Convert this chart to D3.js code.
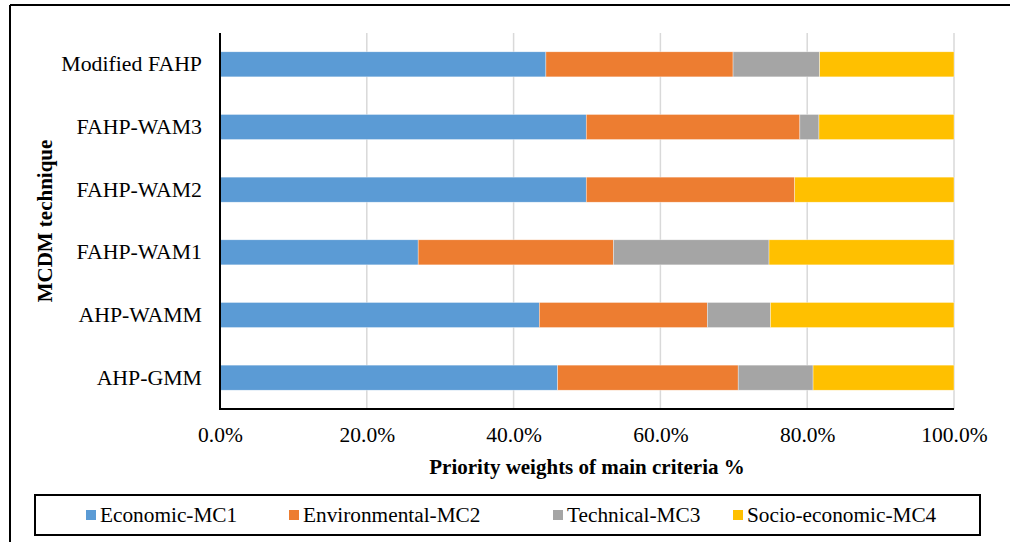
<!DOCTYPE html>
<html>
<head>
<meta charset="utf-8">
<script src="https://cdn.jsdelivr.net/npm/d3@7"></script>
<style>
  body { margin: 0; background: #fff; }
  svg { display: block; }
  svg text { font-family: "Liberation Serif", "Times New Roman", "DejaVu Serif", serif; fill: #000; }
</style>
</head>
<body>
<svg id="chart" width="1010" height="542"></svg>
<script>
const categories = ["Modified FAHP", "FAHP-WAM3", "FAHP-WAM2", "FAHP-WAM1", "AHP-WAMM", "AHP-GMM"];
const seriesNames = ["Economic-MC1", "Environmental-MC2", "Technical-MC3", "Socio-economic-MC4"];
const economicMC1 = [44.4, 49.9, 49.9, 27.0, 43.5, 46.0];
const environmentalMC2 = [25.5, 29.1, 28.4, 26.6, 22.9, 24.6];
const technicalMC3 = [11.8, 2.6, 0.0, 21.2, 8.6, 10.2];
const socioEconomicMC4 = [18.3, 18.4, 21.7, 25.2, 25.0, 19.2];
const xTicks = [0, 20, 40, 60, 80, 100];
const colors = ["#5b9bd5", "#ed7d31", "#a5a5a5", "#ffc000"];

const svg = d3.select("#chart");
const W = 1010, H = 542;

// outer frame
svg.append("line").attr("x1", 10).attr("x2", 10).attr("y1", 5).attr("y2", H).attr("stroke", "#000").attr("stroke-width", 2);
svg.append("line").attr("x1", 10).attr("x2", W).attr("y1", 5).attr("y2", 5).attr("stroke", "#000").attr("stroke-width", 2);

const plot = { left: 220, right: 954, top: 33, bottom: 409 };

const x = d3.scaleLinear().domain([0, 100]).range([plot.left, plot.right]);
const y = d3.scaleBand().domain(categories).range([plot.top, plot.bottom]).paddingInner(0.6).paddingOuter(0.3);

const rows = categories.map((c, i) => ({
  cat: c,
  "Economic-MC1": economicMC1[i],
  "Environmental-MC2": environmentalMC2[i],
  "Technical-MC3": technicalMC3[i],
  "Socio-economic-MC4": socioEconomicMC4[i]
}));
const stack = d3.stack().keys(seriesNames).offset(d3.stackOffsetExpand);
const stacked = stack(rows);

// gridlines
svg.append("g").selectAll("line").data(xTicks.slice(1)).join("line")
  .attr("x1", d => x(d)).attr("x2", d => x(d))
  .attr("y1", plot.top).attr("y2", plot.bottom)
  .attr("stroke", "#d9d9d9").attr("stroke-width", 1.5);

// bars
svg.append("g").selectAll("g").data(stacked).join("g")
  .attr("fill", (d, i) => colors[i])
  .selectAll("rect").data(d => d).join("rect")
  .attr("x", d => x(d[0] * 100))
  .attr("width", d => Math.max(0, x(d[1] * 100) - x(d[0] * 100)))
  .attr("y", d => y(d.data.cat))
  .attr("height", y.bandwidth())
  .attr("stroke", "rgba(255,255,255,0.6)").attr("stroke-width", 0.6);

// axes lines
svg.append("line").attr("x1", plot.left).attr("x2", plot.left).attr("y1", plot.top).attr("y2", plot.bottom + 1)
  .attr("stroke", "#000").attr("stroke-width", 2);
svg.append("line").attr("x1", plot.left).attr("x2", plot.right).attr("y1", plot.bottom).attr("y2", plot.bottom)
  .attr("stroke", "#000").attr("stroke-width", 2);

// x axis labels
const xAxis = d3.axisBottom(x).tickValues(xTicks).tickSize(0).tickPadding(18).tickFormat(d => d.toFixed(1) + "%");
const gx = svg.append("g").attr("transform", `translate(0,${plot.bottom})`).call(xAxis);
gx.attr("font-family", null);
gx.select(".domain").remove();
gx.selectAll("text").attr("font-size", 21.5);

// y axis labels
const yAxis = d3.axisLeft(y).tickSize(0).tickPadding(18);
const gy = svg.append("g").attr("transform", `translate(${plot.left},0)`).call(yAxis);
gy.attr("font-family", null);
gy.select(".domain").remove();
gy.selectAll("text").attr("font-size", 21.8);

// axis titles
svg.append("text").attr("x", (plot.left + plot.right) / 2).attr("y", 474)
  .attr("text-anchor", "middle").attr("font-size", 21).attr("font-weight", "bold")
  .text("Priority weights of main criteria %");
svg.append("text").attr("transform", `translate(52,${(plot.top + plot.bottom) / 2}) rotate(-90)`)
  .attr("text-anchor", "middle").attr("font-size", 21).attr("font-weight", "bold")
  .text("MCDM technique");

// legend
svg.append("rect").attr("x", 35).attr("y", 495).attr("width", 945).attr("height", 40)
  .attr("fill", "#fff").attr("stroke", "#000").attr("stroke-width", 2);
const legendX = [86, 289, 553, 733];
const lg = svg.append("g").selectAll("g").data(seriesNames).join("g")
  .attr("transform", (d, i) => `translate(${legendX[i]},510)`);
lg.append("rect").attr("width", 10).attr("height", 10).attr("fill", (d, i) => colors[i]);
lg.append("text").attr("x", 14).attr("y", 12).attr("font-size", 21.3).text(d => d);
</script>
</body>
</html>
